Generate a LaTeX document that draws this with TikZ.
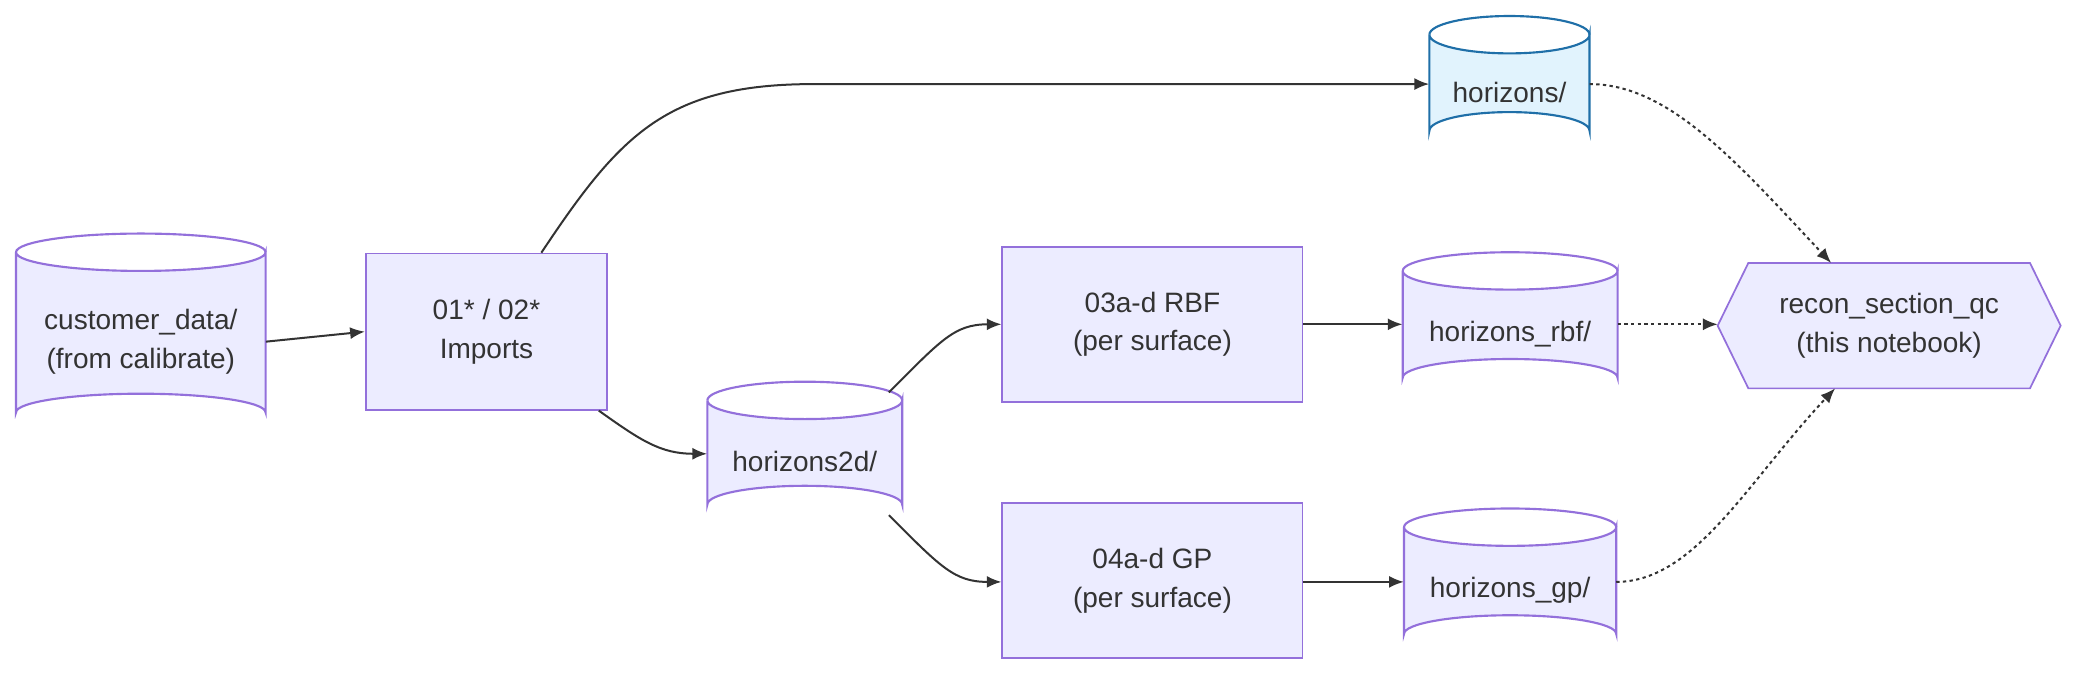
\documentclass[tikz,border=0pt]{standalone}
\usepackage{fontspec}
\setmainfont{Liberation Sans}
\usetikzlibrary{arrows.meta}
\definecolor{mfill}{HTML}{ECECFF}
\definecolor{mline}{HTML}{9370DB}
\definecolor{bfill}{HTML}{E1F3FD}
\definecolor{bline}{HTML}{1F6FA8}
\definecolor{ink}{HTML}{333333}
\tikzset{
  lbl/.style={text=ink, align=center, font=\fontsize{21}{29}\selectfont},
  box/.style={lbl, draw=mline, fill=mfill, line width=1.3pt, inner sep=0pt},
  flow/.style={-{Latex[length=11pt,width=9pt]}, draw=ink, line width=1.5pt},
  link/.style={flow, dash pattern=on 2.5pt off 2.5pt},
}
% cylinder: name, left, top, right, bottom, fill, line, text
\newcommand\dbnode[8]{
  \pgfmathsetmacro\cx{(#2+#4)/2}\pgfmathsetmacro\rx{(#4-#2)/2}
  \draw[fill=#6, draw=#7, line width=1.6pt]
    (#2,#3+14) -- (#2,#5-14) arc[start angle=180, end angle=360, x radius=\rx, y radius=14]
    -- (#4,#3+14) arc[start angle=0, end angle=180, x radius=\rx, y radius=14];
  \draw[draw=#7, line width=1.6pt] (#2,#3+14) arc[start angle=180, end angle=360, x radius=\rx, y radius=14];
  \node[lbl, minimum width=#4-#2, minimum height=#5-#3, inner sep=0pt] (#1) at (\cx,{(#3+#5)/2+7}) {#8};
}
\begin{document}
\begin{tikzpicture}[x=1pt, y=-1pt]
  \useasboundingbox (0,0) rectangle (1560,508);

  \dbnode{cust}{12}{175}{199}{323}{mfill}{mline}{customer\_data/\\(from calibrate)}
  \dbnode{hor}{1071}{12}{1191}{112}{bfill}{bline}{horizons/}
  \dbnode{hortwo}{530}{286}{676}{392}{mfill}{mline}{horizons2d/}
  \dbnode{rbf}{1051}{189}{1212}{297}{mfill}{mline}{horizons\_rbf/}
  \dbnode{gp}{1052}{381}{1211}{489}{mfill}{mline}{horizons\_gp/}

  \node[box, minimum width=181, minimum height=117] (imp) at (364.5,248.5) {01* / 02*\\Imports};
  \node[box, minimum width=225, minimum height=116] (rbfjob) at (863.5,243) {03a-d RBF\\(per surface)};
  \node[box, minimum width=225, minimum height=116] (gpjob) at (863.5,435) {04a-d GP\\(per surface)};

  % notebook hexagon
  \node[lbl, minimum width=200, minimum height=94, inner sep=0pt] (qc) at (1415.5,244) {recon\_section\_qc\\(this notebook)};
  \draw[draw=mline, fill=mfill, line width=1.3pt]
    (1287,244) -- (1310,197) -- (1521,197) -- (1544,244) -- (1521,291) -- (1310,291) -- cycle;
  \node[lbl, inner sep=0pt] at (qc) {recon\_section\_qc\\(this notebook)};

  \draw[flow] (cust.east) -- (imp.west);
  \draw[flow] (imp.north east) ++(-50,0) .. controls (465,100) and (500,63) .. (610,63) -- (hor.west |- 0,63);
  \draw[flow] (imp.south east) ++(-7,0) .. controls (480,330) and (495,340) .. (hortwo.west |- 0,340);
  \draw[flow] (666,294) .. controls (705,255) and (715,243) .. (rbfjob.west);
  \draw[flow] (666,386) .. controls (705,425) and (715,436) .. (gpjob.west |- 0,436);
  \draw[flow] (rbfjob.east) -- (rbf.west |- rbfjob.east);
  \draw[flow] (gpjob.east |- 0,436) -- (gp.west |- 0,436);
  \draw[link] (1191,63) .. controls (1250,63) and (1300,120) .. (1372,197);
  \draw[link] (1212,243) -- (1287,243);
  \draw[link] (1211,436) .. controls (1270,436) and (1310,360) .. (1375,291);
\end{tikzpicture}
\end{document}
